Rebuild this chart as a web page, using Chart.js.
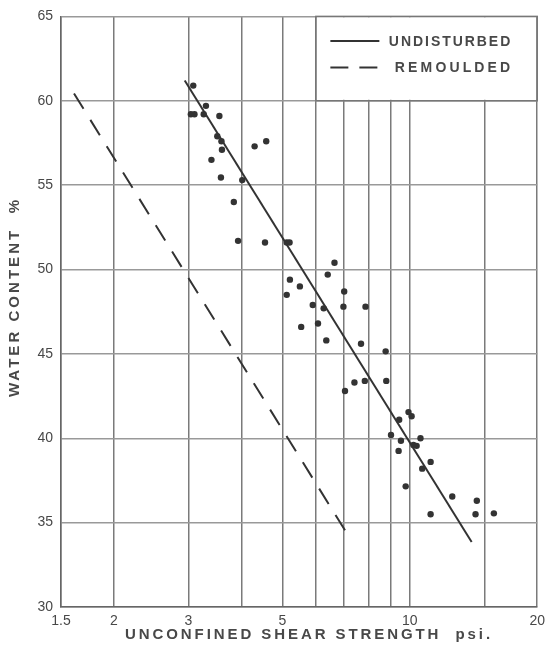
<!DOCTYPE html>
<html>
<head>
  <title>Water content vs unconfined shear strength</title>
  <script src="https://cdn.jsdelivr.net/npm/chart.js"></script>
  <style>
    body { margin: 0; background: #fff; }
    #wrap { width: 551px; height: 654px; }
  </style>
</head>
<body>
  <div id="wrap"><canvas id="myChart"></canvas></div>
  <script>
    // test results: shear strength (psi) and water content (%)
    var shearValues = [3.08, 3.04, 3.10, 3.30, 3.26, 3.55, 3.51, 3.59, 3.60, 3.40,
                       3.58, 4.30, 4.58, 4.02, 3.84, 3.93, 4.55, 5.12, 5.20, 6.64,
                       6.40, 5.21, 5.50, 5.12, 7.00, 5.90, 6.26, 6.97, 7.86, 5.54,
                       6.07, 6.35, 7.67, 8.77, 7.40, 7.83, 8.80, 7.03, 9.93, 10.1,
                       9.44, 9.03, 9.53, 10.6, 9.41, 10.2, 10.38, 11.2, 10.7, 9.78,
                       12.6, 14.4, 14.3, 15.8, 11.2];
    var waterValues = [60.9, 59.2, 59.2, 59.7, 59.2, 59.1, 57.9, 57.6, 57.1, 56.5,
                       55.45, 57.3, 57.6, 55.3, 54.0, 51.7, 51.6, 51.6, 51.6, 50.4,
                       49.7, 49.4, 49.0, 48.5, 48.7, 47.9, 47.7, 47.8, 47.8, 46.6,
                       46.8, 45.8, 45.6, 45.15, 43.3, 43.4, 43.4, 42.8, 41.55, 41.3,
                       41.1, 40.2, 39.85, 40.0, 39.25, 39.6, 39.55, 38.6, 38.2, 37.15,
                       36.55, 36.3, 35.5, 35.55, 35.5];

    // the two straight lines, end points only
    var undisturbedShear = [2.94, 14.0];
    var undisturbedWater = [61.2, 33.85];
    var remouldedShear = [1.61, 7.17];
    var remouldedWater = [60.43, 34.2];

    var xGridValues = [1.5, 2, 3, 4, 5, 6, 7, 8, 9, 10, 15, 20];
    var xLabelValues = [1.5, 2, 3, 5, 10, 20];
    var yTickValues = [30, 35, 40, 45, 50, 55, 60, 65];

    var legendLabels = ['UNDISTURBED', 'REMOULDED'];
    var xTitle = 'UNCONFINED SHEAR STRENGTH  psi.';
    var yTitle = 'WATER CONTENT  %';

    var ink = '#333';
    var textInk = '#484848';
    var remouldedDash = [18, 13];

    function toPoints(xs, ys) {
      return xs.map(function(x, i) { return { x: x, y: ys[i] }; });
    }

    // stretch the letter spacing so the text runs from x0 to x1 (old stencil look)
    function spacedText(ctx, text, x0, x1, y) {
      ctx.letterSpacing = '0px';
      var w = ctx.measureText(text).width;
      var gap = (x1 - x0 - w) / (text.length - 1);
      ctx.letterSpacing = gap.toFixed(2) + 'px';
      ctx.textAlign = 'left';
      ctx.fillText(text, x0, y);
      ctx.letterSpacing = '0px';
    }

    // legend box over the top right grid cell, plus the axis titles
    var paperPlugin = {
      id: 'paper',
      afterDraw: function(chart) {
        var ctx = chart.ctx;
        var area = chart.chartArea;
        var left = chart.scales.x.getPixelForValue(6);
        var bottom = chart.scales.y.getPixelForValue(60);
        var top = area.top, right = area.right;

        ctx.save();
        ctx.fillStyle = '#fff';
        ctx.fillRect(left + 1, top + 1, right - left - 2, bottom - top - 2);
        ctx.strokeStyle = '#777';
        ctx.lineWidth = 1.5;
        ctx.strokeRect(left, top, right - left, bottom - top);

        var rows = [top + 24.5, top + 51];
        ctx.strokeStyle = ink;
        ctx.lineWidth = 2;
        for (var i = 0; i < rows.length; i++) {
          ctx.setLineDash(i === 0 ? [] : [18, 11]);
          ctx.beginPath();
          ctx.moveTo(left + 14.5, rows[i]);
          ctx.lineTo(left + 63.5, rows[i]);
          ctx.stroke();
        }
        ctx.setLineDash([]);

        ctx.fillStyle = textInk;
        ctx.textBaseline = 'middle';
        ctx.font = 'bold 14px "Liberation Sans"';
        spacedText(ctx, legendLabels[0], left + 73, right - 27, rows[0] + 1);
        spacedText(ctx, legendLabels[1], left + 79, right - 27, rows[1] + 1);

        ctx.font = 'bold 15px "Liberation Sans"';
        spacedText(ctx, xTitle, 125, 490, 635);
        ctx.translate(15, 0);
        ctx.rotate(-Math.PI / 2);
        spacedText(ctx, yTitle, -397, -200, 0);
        ctx.restore();
      }
    };

    var ctx = document.getElementById('myChart').getContext('2d');
    var myChart = new Chart(ctx, {
      type: 'scatter',
      data: {
        datasets: [
          {
            label: 'Tests',
            data: toPoints(shearValues, waterValues),
            backgroundColor: ink,
            borderColor: ink,
            pointRadius: 3.2,
            pointBorderWidth: 0,
            showLine: false
          },
          {
            label: legendLabels[0],
            data: toPoints(undisturbedShear, undisturbedWater),
            borderColor: ink,
            borderWidth: 2,
            pointRadius: 0,
            showLine: true
          },
          {
            label: legendLabels[1],
            data: toPoints(remouldedShear, remouldedWater),
            borderColor: ink,
            borderWidth: 2,
            borderDash: remouldedDash,
            pointRadius: 0,
            showLine: true
          }
        ]
      },
      options: {
        responsive: true,
        maintainAspectRatio: false,
        animation: false,
        layout: { padding: { top: 12, right: 10, left: 0, bottom: 0 } },
        plugins: {
          legend: { display: false },
          tooltip: { enabled: false }
        },
        scales: {
          x: {
            type: 'logarithmic',
            min: 1.5,
            max: 20,
            afterBuildTicks: function(scale) {
              scale.ticks = xGridValues.map(function(v) { return { value: v }; });
            },
            afterFit: function(scale) { scale.height = 47; },
            grid: { color: '#7a7a7a', lineWidth: 1.5, drawTicks: false },
            border: { color: '#666', width: 1.5 },
            ticks: {
              autoSkip: false,
              maxRotation: 0,
              padding: 6,
              color: textInk,
              font: { family: 'Liberation Sans', size: 14 },
              callback: function(value) {
                return xLabelValues.indexOf(value) >= 0 ? String(value) : '';
              }
            }
          },
          y: {
            min: 30,
            max: 65,
            afterBuildTicks: function(scale) {
              scale.ticks = yTickValues.map(function(v) { return { value: v }; });
            },
            afterFit: function(scale) { scale.width = 61; },
            grid: { color: '#999', lineWidth: 1.5, drawTicks: false },
            border: { color: '#666', width: 1.5 },
            ticks: {
              padding: 8,
              color: textInk,
              font: { family: 'Liberation Sans', size: 14 }
            }
          }
        }
      },
      plugins: [paperPlugin]
    });
  </script>
</body>
</html>
